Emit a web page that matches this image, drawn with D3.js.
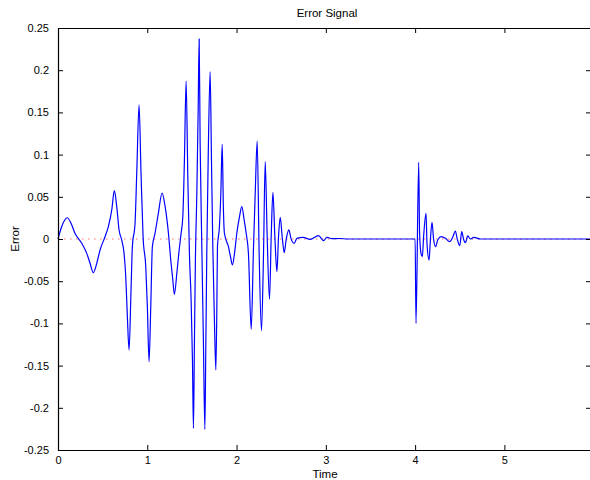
<!DOCTYPE html>
<html>
<head>
<meta charset="utf-8">
<script src="https://cdn.jsdelivr.net/npm/d3@7"></script>
<style>
  html, body { margin: 0; padding: 0; background: #fff; }
  svg { display: block; }
  text { font-family: "Liberation Sans", Arial, Helvetica, sans-serif; fill: #000; }
</style>
</head>
<body>
<script>
// ---- data ----
const titleText = "Error Signal";
const xLabelText = "Time";
const yLabelText = "Error";
const xDomain = [0, 5.97];
const yDomain = [-0.25, 0.25];
const xTickValues = [0, 1, 2, 3, 4, 5];
const yTickValues = [-0.25, -0.2, -0.15, -0.1, -0.05, 0, 0.05, 0.1, 0.15, 0.2, 0.25];
const yTickLabels = ["-0.25", "-0.2", "-0.15", "-0.1", "-0.05", "0", "0.05", "0.1", "0.15", "0.2", "0.25"];

const times = [
  0, 0.041, 0.104, 0.146, 0.19, 0.266, 0.322, 0.359, 0.396, 0.434, 0.471, 0.527, 0.564, 0.602, 0.631, 0.658,
  0.684, 0.714, 0.74, 0.759, 0.777, 0.796, 0.818, 0.833, 0.863, 0.882, 0.908, 0.93, 0.953, 0.983, 1.001,
  1.02, 1.039, 1.057, 1.087, 1.124, 1.166, 1.2, 1.237, 1.263, 1.286, 1.304, 1.331, 1.357, 1.379, 1.398,
  1.416, 1.435, 1.454, 1.472, 1.491, 1.506, 1.517, 1.528, 1.539, 1.555, 1.57, 1.581, 1.592, 1.611, 1.629,
  1.645, 1.656, 1.667, 1.682, 1.704, 1.719, 1.734, 1.752, 1.768, 1.779, 1.786, 1.808, 1.824, 1.839, 1.853,
  1.864, 1.909, 1.932, 1.954, 1.977, 2.003, 2.033, 2.059, 2.085, 2.108, 2.133, 2.164, 2.19, 2.209, 2.231,
  2.253, 2.279, 2.302, 2.321, 2.343, 2.369, 2.388, 2.407, 2.429, 2.452, 2.47, 2.489, 2.511, 2.534, 2.556,
  2.586, 2.609, 2.646, 2.676, 2.743, 2.825, 2.918, 2.975, 3.012, 3.068, 3.16, 3.24, 3.5, 3.8, 4.0,
  4.01, 4.04, 4.05, 4.066, 4.081, 4.095, 4.122, 4.133, 4.156, 4.171, 4.189, 4.208, 4.23, 4.253, 4.29,
  4.339, 4.387, 4.421, 4.451, 4.47, 4.5, 4.522, 4.545, 4.563, 4.589, 4.619, 4.656, 4.73, 5.2, 5.97
];
const errors = [
  0, 0.0146, 0.0252, 0.0186, 0.0068, -0.0051, -0.017, -0.0288, -0.0399, -0.0288, -0.013, 0.0027, 0.0146, 0.0344, 0.0572, 0.0383,
  0.0107, -0.0012, -0.017, -0.0447, -0.092, -0.1315, -0.0604, -0.0091, 0.0186, 0.0778, 0.1588, 0.0778, 0.0027, -0.0328, -0.0802,
  -0.1454, -0.0802, -0.0091, 0.0068, 0.0304, 0.0545, 0.0383, 0.0068, -0.0249, -0.0486, -0.0655, -0.0406, -0.013, 0.0068, 0.0264,
  0.0936, 0.1872, 0.0738, -0.0169, -0.0723, -0.1434, -0.2243, -0.1236, -0.0249, 0.0541, 0.1528, 0.237, 0.1134, -0.0091, -0.1236,
  -0.2255, -0.1236, -0.013, 0.0936, 0.1982, 0.0936, -0.0091, -0.096, -0.1552, -0.0841, -0.0091, 0.0146, 0.0541, 0.1122, 0.0344,
  0.0068, -0.0091, -0.021, -0.0308, -0.017, 0.0068, 0.0264, 0.0383, 0.0225, 0.0068, -0.017, -0.107, -0.0091, 0.0541, 0.1161,
  -0.017, -0.1086, -0.017, 0.0916, 0.0027, -0.0714, 0.0027, 0.0553, 0.0027, -0.0387, 0.0027, 0.0257, 0.0027, -0.0162, -0.0004,
  0.0107, 0.0008, -0.0051, 0.0008, 0.002, -0.0004, 0.0039, -0.002, 0.002, 0.0004, 0.0006, 0, 0, 0, 0,
  -0.0999, 0.0909, 0.0068, -0.017, -0.021, 0.0027, 0.0304, -0.0051, -0.0249, -0.0012, 0.0198, -0.0012, -0.0091, -0.0012, 0.0027,
  0.0008, -0.0032, 0.002, 0.0095, 0.0008, -0.0079, 0.0087, -0.0012, -0.0044, 0.0036, 0, 0.002, 0, 0, 0
];

// ---- layout ----
const W = 590, H = 480;
const mLeft = 58, mRight = 591, mTop = 28, mBottom = 450;
const tickLen = 5;

const svg = d3.select("body").append("svg").attr("width", W).attr("height", H);

const x = d3.scaleLinear().domain(xDomain).range([mLeft, mRight]);
const y = d3.scaleLinear().domain(yDomain).range([mBottom, mTop]);

const series = times.map((t, i) => ({ t, v: errors[i] }));

// zero reference line (red dotted)
svg.append("line")
  .attr("x1", x(xDomain[0])).attr("x2", x(xDomain[1]))
  .attr("y1", y(0)).attr("y2", y(0))
  .attr("stroke", "#ff7070").attr("stroke-width", 1)
  .attr("stroke-dasharray", "1.5,4.5");

// signal
const line = d3.line().x(d => x(d.t)).y(d => y(d.v)).curve(d3.curveMonotoneX);
svg.append("path")
  .datum(series)
  .attr("d", line)
  .attr("fill", "none")
  .attr("stroke", "#0000ff")
  .attr("stroke-width", 1.2)
  .attr("stroke-linejoin", "round");

// axes (MATLAB style, ticks inward, box)
const axBottom = d3.axisBottom(x).tickValues(xTickValues).tickSizeInner(-tickLen).tickSizeOuter(0).tickPadding(6).tickFormat(d3.format("d"));
const axTop = d3.axisTop(x).tickValues(xTickValues).tickSizeInner(-tickLen).tickSizeOuter(0).tickFormat("");
const axLeft = d3.axisLeft(y).tickValues(yTickValues).tickSizeInner(-tickLen).tickSizeOuter(0).tickPadding(9)
  .tickFormat((d, i) => yTickLabels[i]);
const axRight = d3.axisRight(y).tickValues(yTickValues).tickSizeInner(-tickLen).tickSizeOuter(0).tickFormat("");

function style(g) {
  g.selectAll(".domain").attr("stroke", "#000").attr("stroke-width", 1.2);
  g.selectAll(".tick line").attr("stroke", "#000").attr("stroke-width", 1);
  g.selectAll(".tick text").attr("font-size", 11).attr("fill", "#000")
    .attr("font-family", "'Liberation Sans', Arial, sans-serif");
}

svg.append("g").attr("transform", `translate(0,${mBottom})`).call(axBottom).call(style);
svg.append("g").attr("transform", `translate(0,${mTop})`).call(axTop).call(style);
svg.append("g").attr("transform", `translate(${mLeft},0)`).call(axLeft).call(style);
svg.append("g").attr("transform", `translate(${mRight},0)`).call(axRight).call(style);

// labels
svg.append("text").attr("x", 327).attr("y", 17).attr("text-anchor", "middle")
  .attr("font-size", 11.5).text(titleText);
svg.append("text").attr("x", 325).attr("y", 478).attr("text-anchor", "middle")
  .attr("font-size", 11.5).text(xLabelText);
svg.append("text").attr("transform", `translate(19,${(mTop + mBottom) / 2}) rotate(-90)`)
  .attr("text-anchor", "middle").attr("font-size", 11.5).text(yLabelText);
</script>
</body>
</html>
